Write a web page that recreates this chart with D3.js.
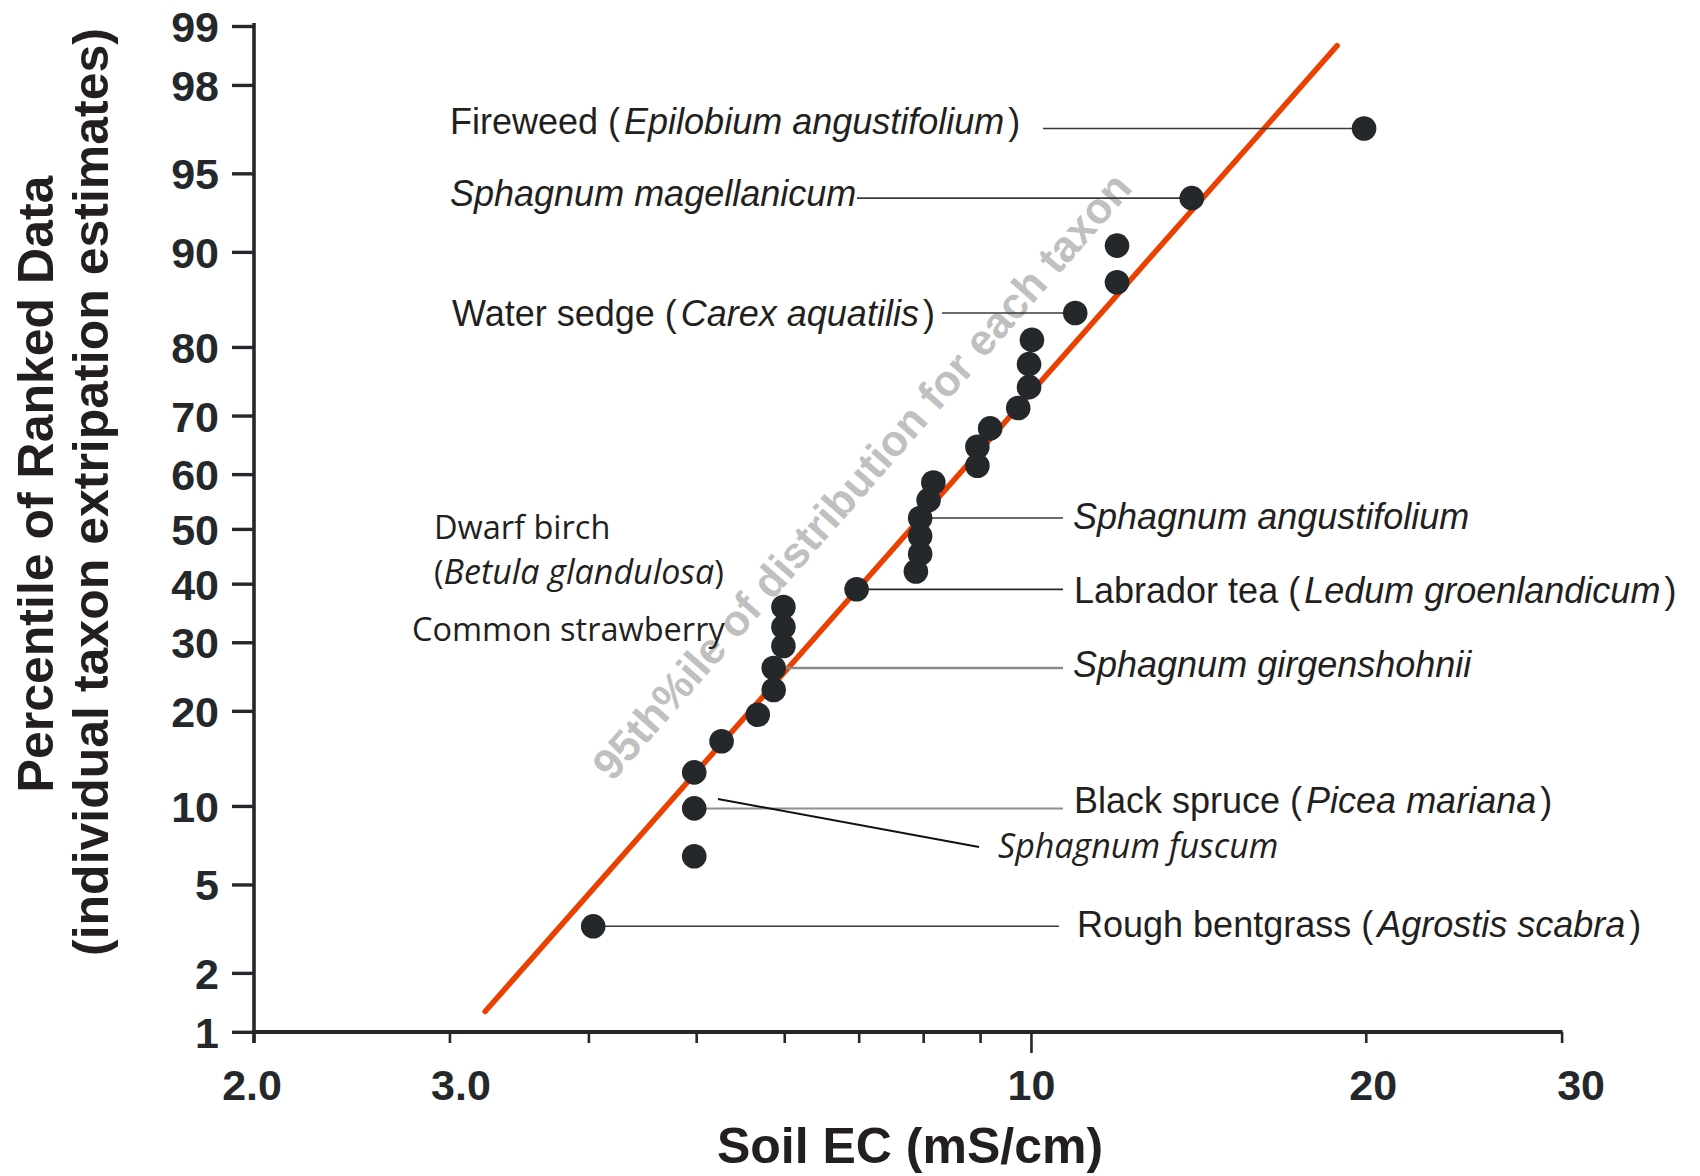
<!DOCTYPE html>
<html><head><meta charset="utf-8">
<script src="https://cdn.jsdelivr.net/npm/d3@7"></script>
<style>html,body{margin:0;padding:0;background:#fff;} svg{display:block;}</style>
</head><body><svg id="chart" width="1700" height="1176"></svg>
<script>
// ---------------- data ----------------
const ecValues = [4.04, 4.98, 4.98, 4.98, 5.27, 5.68, 5.87, 5.87, 5.99, 5.99, 5.99, 6.97, 7.88, 7.95, 7.95, 7.95, 8.09, 8.17, 8.95, 8.95, 9.19, 9.74, 9.96, 9.96, 10.02, 10.96, 11.95, 11.95, 13.95, 19.93];
const percentiles = [3.3, 6.5, 9.8, 13.0, 16.3, 19.5, 22.8, 26.0, 29.4, 32.5, 35.9, 39.0, 42.2, 45.4, 48.7, 52.0, 55.3, 58.5, 61.5, 64.8, 67.9, 71.2, 74.4, 77.7, 80.9, 84.1, 87.3, 90.5, 93.7, 96.8];
const fitLineEC = [3.23, 18.85];
const fitLinePct = [1.28, 98.73];
const yTickValues = [1, 2, 5, 10, 20, 30, 40, 50, 60, 70, 80, 90, 95, 98, 99];
const xTickValues = [2, 3, 4, 5, 6, 7, 8, 9, 10, 20, 30];
const xTickLabels = {2: "2.0", 3: "3.0", 10: "10", 20: "20", 30: "30"};
const xTitle = "Soil EC (mS/cm)";
const yTitle = ["Percentile of Ranked Data", "(individual taxon extripation estimates)"];
const diagonalNote = "95th%ile of distribution for each taxon";
// taxon labels: text parts [text, italic]
const taxonLabels = [
  {parts: [["Fireweed (", 0], ["Epilobium angustifolium", 1], [")", 0]], point: 29},
  {parts: [["Sphagnum magellanicum", 1]], point: 28},
  {parts: [["Water sedge (", 0], ["Carex aquatilis", 1], [")", 0]], point: 25},
  {parts: [["Sphagnum angustifolium", 1]], point: 15},
  {parts: [["Labrador tea (", 0], ["Ledum groenlandicum", 1], [")", 0]], point: 11},
  {parts: [["Sphagnum girgenshohnii", 1]], point: 7},
  {parts: [["Black spruce (", 0], ["Picea mariana", 1], [")", 0]], point: 2},
  {parts: [["Sphagnum fuscum", 1]], point: null},
  {parts: [["Rough bentgrass (", 0], ["Agrostis scabra", 1], [")", 0]], point: 0},
  {parts: [["Dwarf birch", 0]], point: null},
  {parts: [["(", 0], ["Betula glandulosa", 1], [")", 0]], point: null},
  {parts: [["Common strawberry", 0]], point: null}
];

// ---------------- layout (positions / styles) ----------------
const labelLayout = [
  {x: 450, y: 134, font: "a", lineX: 1043, lineStroke: "#3a3a3a", lineW: 1.6},
  {x: 450, y: 206, font: "a", lineX: 857, lineStroke: "#3a3a3a", lineW: 1.6},
  {x: 452, y: 326, font: "a", lineX: 942, lineStroke: "#3a3a3a", lineW: 1.6},
  {x: 1073, y: 529, font: "a", lineX: 1063, lineStroke: "#3a3a3a", lineW: 1.6},
  {x: 1074, y: 603, font: "a", lineX: 1063, lineStroke: "#2a2a2a", lineW: 1.8},
  {x: 1073, y: 677, font: "a", lineX: 1063, lineStroke: "#8a8a8a", lineW: 2.4},
  {x: 1074, y: 813, font: "a", lineX: 1063, lineStroke: "#8f8f8f", lineW: 2.0},
  {x: 998, y: 858, font: "o", seg: [[718, 799], [979, 847]], lineStroke: "#111", lineW: 2},
  {x: 1077, y: 937, font: "a", lineX: 1059, lineStroke: "#3a3a3a", lineW: 1.6},
  {x: 434, y: 539, font: "o"},
  {x: 434, y: 584, font: "o"},
  {x: 412, y: 641, font: "o"}
];
const xLabelDx = {2: -2, 3: 11, 10: 0, 20: 7, 30: 19};

// inverse standard normal CDF (Acklam)
function probit(p) {
  const a = [-3.969683028665376e+01, 2.209460984245205e+02, -2.759285104469687e+02, 1.383577518672690e+02, -3.066479806614716e+01, 2.506628277459239e+00];
  const b = [-5.447609879822406e+01, 1.615858368580409e+02, -1.556989798598866e+02, 6.680131188771972e+01, -1.328068155288572e+01];
  const c = [-7.784894002430293e-03, -3.223964580411365e-01, -2.400758277161838e+00, -2.549732539343734e+00, 4.374664141464968e+00, 2.938163982698783e+00];
  const d = [7.784695709041462e-03, 3.224671290700398e-01, 2.445134137142996e+00, 3.754408661907416e+00];
  const pl = 0.02425, ph = 1 - pl;
  let q, r;
  if (p < pl) { q = Math.sqrt(-2 * Math.log(p)); return (((((c[0]*q+c[1])*q+c[2])*q+c[3])*q+c[4])*q+c[5]) / ((((d[0]*q+d[1])*q+d[2])*q+d[3])*q+1); }
  if (p > ph) { q = Math.sqrt(-2 * Math.log(1 - p)); return -(((((c[0]*q+c[1])*q+c[2])*q+c[3])*q+c[4])*q+c[5]) / ((((d[0]*q+d[1])*q+d[2])*q+d[3])*q+1); }
  q = p - 0.5; r = q * q;
  return (((((a[0]*r+a[1])*r+a[2])*r+a[3])*r+a[4])*r+a[5])*q / (((((b[0]*r+b[1])*r+b[2])*r+b[3])*r+b[4])*r+1);
}

const svg = d3.select("#chart");
svg.append("rect").attr("width", 1700).attr("height", 1176).attr("fill", "#fff");

const xScale = d3.scaleLog().domain([2, 30]).range([253.6, 1561.6]);
const zScale = d3.scaleLinear().domain([probit(0.01), probit(0.99)]).range([1031.8, 26]);
function makeProbScale(lin) {
  const s = p => lin(probit(p / 100));
  s.range = () => lin.range();
  s.domain = () => [1, 99];
  s.copy = () => makeProbScale(lin.copy());
  return s;
}
const yScale = makeProbScale(zScale);

const AX = "#25282b";
const TXT = "#231f20";

// ---------- Y axis ----------
const yAxisG = svg.append("g").attr("transform", "translate(254,0)")
  .call(d3.axisLeft(yScale).tickValues(yTickValues).tickSize(22).tickPadding(13).tickSizeOuter(0));
yAxisG.select(".domain").remove();
yAxisG.selectAll(".tick line").attr("stroke", AX).attr("stroke-width", 3.4);
yAxisG.selectAll(".tick text").attr("fill", AX)
  .style("font-family", "'Liberation Sans', Arial, sans-serif").style("font-weight", "bold").style("font-size", "43px")
  .attr("dy", "0.36em");
svg.append("line").attr("x1", 254).attr("x2", 254).attr("y1", yScale(99) - 3).attr("y2", 1043)
  .attr("stroke", AX).attr("stroke-width", 3.6);

// ---------- X axis ----------
const xAxisG = svg.append("g").attr("transform", "translate(0,1032)")
  .call(d3.axisBottom(xScale).tickValues(xTickValues).tickSize(11).tickSizeOuter(0).tickFormat(d => xTickLabels[d] || ""));
xAxisG.select(".domain").remove();
xAxisG.selectAll(".tick line").attr("stroke", AX).attr("stroke-width", 2.6)
  .attr("y2", d => d === 10 ? 21 : 11);
xAxisG.selectAll(".tick text").attr("fill", AX)
  .style("font-family", "'Liberation Sans', Arial, sans-serif").style("font-weight", "bold").style("font-size", "43px")
  .attr("y", 68).attr("dy", 0).attr("dx", d => xLabelDx[d] || 0);
svg.append("line").attr("x1", 252).attr("x2", xScale(30) + 1).attr("y1", 1032).attr("y2", 1032)
  .attr("stroke", AX).attr("stroke-width", 4.2);

// ---------- axis titles ----------
svg.append("text").attr("x", 910).attr("y", 1163).attr("text-anchor", "middle")
  .attr("fill", TXT).style("font-family", "'Liberation Sans', Arial, sans-serif").style("font-weight", "bold").style("font-size", "50px")
  .text(xTitle);
const yTitlePos = [[53, 484], [108, 492]];
yTitle.forEach((t, i) => {
  svg.append("text").attr("transform", `translate(${yTitlePos[i][0]},${yTitlePos[i][1]}) rotate(-90)`)
    .attr("text-anchor", "middle").attr("fill", TXT)
    .style("font-family", "'Liberation Sans', Arial, sans-serif").style("font-weight", "bold").style("font-size", "50px")
    .text(t);
});

// ---------- diagonal note ----------
svg.append("text").attr("transform", "translate(873,486) rotate(-48.7)")
  .attr("text-anchor", "middle").attr("fill", "#c0c0c0")
  .style("font-family", "'Liberation Sans', Arial, sans-serif").style("font-weight", "bold").style("font-size", "43.5px")
  .text(diagonalNote);

// ---------- fitted line ----------
const fitData = fitLineEC.map((e, i) => [e, fitLinePct[i]]);
svg.append("path").datum(fitData)
  .attr("d", d3.line().x(d => xScale(d[0])).y(d => yScale(d[1])))
  .attr("stroke", "#ea4000").attr("stroke-width", 5.5).attr("fill", "none").attr("stroke-linecap", "round");

// ---------- leader lines ----------
const pts = ecValues.map((e, i) => ({ec: e, p: percentiles[i]}));
taxonLabels.forEach((lab, i) => {
  const L = labelLayout[i];
  if (lab.point !== null && L.lineX !== undefined) {
    const pt = pts[lab.point];
    svg.append("line").attr("x1", xScale(pt.ec)).attr("y1", yScale(pt.p))
      .attr("x2", L.lineX).attr("y2", yScale(pt.p))
      .attr("stroke", L.lineStroke).attr("stroke-width", L.lineW);
  } else if (L.seg) {
    svg.append("line").attr("x1", L.seg[0][0]).attr("y1", L.seg[0][1]).attr("x2", L.seg[1][0]).attr("y2", L.seg[1][1])
      .attr("stroke", L.lineStroke).attr("stroke-width", L.lineW);
  }
});

// ---------- points ----------
svg.append("g").selectAll("circle").data(pts).join("circle")
  .attr("cx", d => xScale(d.ec)).attr("cy", d => yScale(d.p)).attr("r", 12.3)
  .attr("fill", "#25282b");

// ---------- labels ----------
taxonLabels.forEach((lab, i) => {
  const L = labelLayout[i];
  const isA = L.font === "a";
  const t = svg.append("text").attr("x", L.x).attr("y", L.y).attr("fill", TXT)
    .style("font-family", isA ? "'Liberation Sans', Arial, sans-serif" : "'Open Sans', sans-serif")
    .style("font-size", isA ? "36px" : "32.5px");
  const mixed = lab.parts.length > 1;
  lab.parts.forEach((p, k) => {
    const ts = t.append("tspan").style("font-style", p[1] ? "italic" : "normal").text(p[0]);
    if (!isA && p[1]) ts.style("font-size", "34px");
    if (isA && mixed && k > 0) ts.attr("dx", 4);
  });
});
</script>
</body></html>
